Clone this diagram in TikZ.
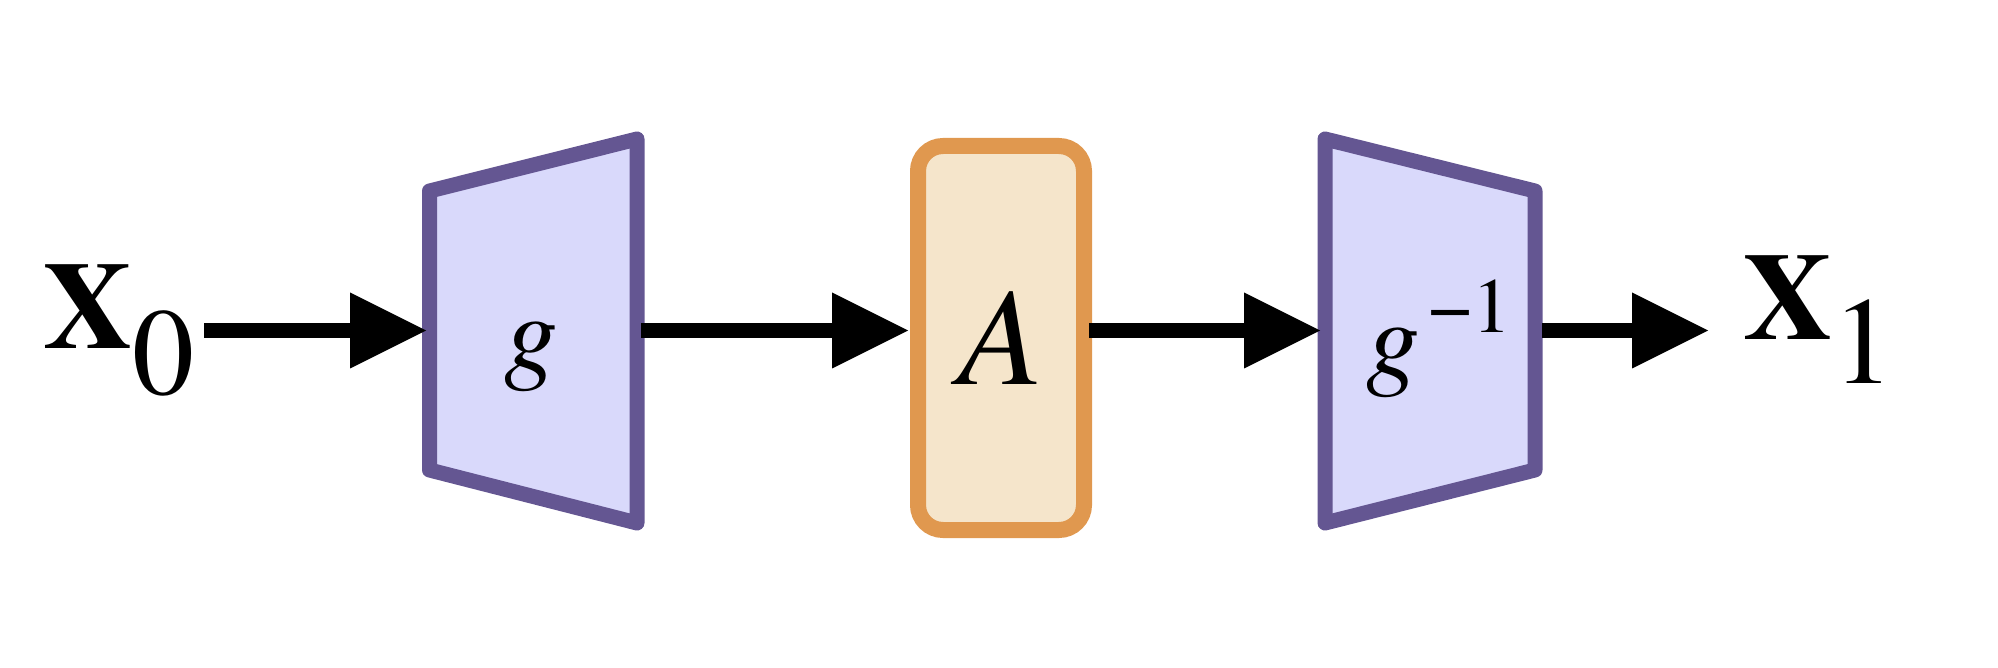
\documentclass[tikz,border=0pt]{standalone}
\usepackage{fontspec}
\IfFontExistsTF{TeX Gyre Termes}{\setmainfont{TeX Gyre Termes}}{\setmainfont{Liberation Serif}}
\IfFontExistsTF{texgyretermes-bold.otf}{\newfontface\xbf{texgyretermes-bold.otf}}{%
  \IfFontExistsTF{TeX Gyre Termes Bold}{\newfontface\xbf{TeX Gyre Termes Bold}}{%
    \newfontface\xbf{TeX Gyre Termes}[FakeBold=3]}}
\usetikzlibrary{arrows.meta}
\definecolor{trapline}{RGB}{100,86,146}
\definecolor{trapfill}{RGB}{217,217,251}
\definecolor{boxline}{RGB}{224,152,79}
\definecolor{boxfill}{RGB}{245,229,203}
\begin{document}
\begin{tikzpicture}[x=0.5pt,y=-0.5pt,
  trap/.style={draw=trapline, fill=trapfill, line width=7.5pt, line join=round},
  opbox/.style={draw=boxline, fill=boxfill, line width=8pt, rounded corners=12.5pt,
    minimum width=83pt, minimum height=192pt, inner sep=0pt},
  conn/.style={line width=7.5pt, -{Triangle[length=38pt,width=38pt,line width=0pt]}},
  lbl/.style={inner sep=0pt, anchor=base west}]
\path[use as bounding box] (0,0) rectangle (1998,668);
% encoder g
\draw[trap] (429.5,191) -- (637,139) -- (637,523) -- (429.5,470) -- cycle;
\coordinate (gin) at (426,330.5);
\coordinate (gout) at (641,330.5);
\node[lbl] (glab) at (504,370) {\fontsize{54}{54}\selectfont\itshape g};
% linear operator A
\node[opbox] (Abox) at (1001,338) {\fontsize{69.5}{69.5}\selectfont\itshape A};
\coordinate (Ain) at (908,330.5);
\coordinate (Aout) at (1089,330.5);
% decoder g^{-1}
\draw[trap] (1325,139) -- (1535,191) -- (1535,470) -- (1325,523) -- cycle;
\coordinate (ginvin) at (1320,330.5);
\coordinate (ginvout) at (1542,330.5);
\node[lbl] (ginvlab) at (1366,375) {{\fontsize{54}{54}\selectfont\itshape g}\kern4pt\raisebox{21pt}{\fontsize{39}{39}\selectfont −1}};
% inputs / outputs
\node[lbl] (x0) at (43,349) {{\xbf\fontsize{62}{62}\selectfont X}\raisebox{-23pt}{\fontsize{62}{62}\selectfont 0}};
\coordinate (x0out) at (204,330.5);
\node[lbl] (x1) at (1743,340) {{\xbf\fontsize{62}{62}\selectfont X}\raisebox{-21.5pt}{\fontsize{62}{62}\selectfont 1}};
\coordinate (x1in) at (1708,330.5);
% connectors
\draw[conn] (x0out) -- (gin);
\draw[conn] (gout) -- (Ain);
\draw[conn] (Aout) -- (ginvin);
\draw[conn] (ginvout) -- (x1in);
\end{tikzpicture}
\end{document}
